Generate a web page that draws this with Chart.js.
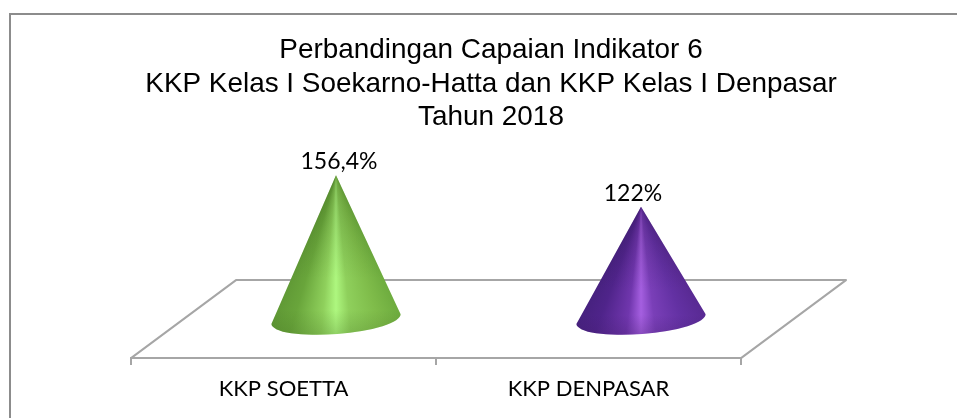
<!DOCTYPE html>
<html><head><meta charset="utf-8">
<style>html,body{margin:0;padding:0;background:#fff}#w{width:957px;height:418px;position:relative}</style>
<script src="https://cdn.jsdelivr.net/npm/chart.js@4"></script>
</head><body><div id="w"><canvas id="c" width="957" height="418"></canvas></div>
<script>
const categories = ["KKP SOETTA", "KKP DENPASAR"];
const values = [156.4, 122];
const valueLabels = ["156,4%", "122%"];
const titleLines = ["Perbandingan Capaian Indikator 6", "KKP Kelas I Soekarno-Hatta dan KKP Kelas I Denpasar", "Tahun 2018"];
const coneStops = [
  ["#6aa83c","#7fbc4a","#8fd05c","#aef77f","#8fd05c","#69a53b","#5c9433"],
  ["#56288f","#6331a3","#7a3fb8","#a55fe0","#7036ad","#4f248a","#43207a"]
];
const coneShade = ["rgba(62,105,30,", "rgba(60,25,100,"];
const labelNudge = [3, -8];
const depthX = 105, depthY = 78, axisMax = 243, coneR = 64.5, tilt = 5;
const GRID = "#a6a6a6";

const cones = {
  id: "cones",
  beforeDatasetsDraw(chart) {
    const {ctx, chartArea: a} = chart;
    ctx.save();
    ctx.strokeStyle = "#8c8c8c"; ctx.lineWidth = 2;
    ctx.strokeRect(10, 14, 1000, 1000);
    ctx.strokeStyle = GRID; ctx.lineWidth = 2; ctx.lineJoin = "round";
    ctx.beginPath();
    ctx.moveTo(a.left, a.bottom);
    ctx.lineTo(a.left + depthX, a.bottom - depthY);
    ctx.lineTo(a.right + depthX, a.bottom - depthY);
    ctx.lineTo(a.right, a.bottom);
    ctx.stroke();
    ctx.restore();
  },
  afterDatasetsDraw(chart) {
    const {ctx} = chart;
    const meta = chart.getDatasetMeta(0);
    const zero = chart.scales.y.getPixelForValue(0);
    meta.data.forEach((bar, i) => {
      const cx = bar.x + depthX / 2, baseY = zero - depthY / 2, topY = bar.y - depthY / 2;
      const half = Math.atan2(coneR, baseY - topY) * 1.12;
      const g = ctx.createConicGradient(Math.PI / 2 - half, cx, topY);
      const offs = [0, .2, .4, .5, .6, .8, 1];
      coneStops[i].forEach((s, k) => g.addColorStop(offs[k] * (2 * half) / (2 * Math.PI), s));
      g.addColorStop(2 * half / (2 * Math.PI) + .001, coneStops[i][6]);
      g.addColorStop(1, coneStops[i][0]);
      const ang = Math.atan2(-tilt * 2, coneR * 2);
      const path = new Path2D();
      path.moveTo(cx, topY);
      path.lineTo(cx + coneR, baseY - tilt);
      path.ellipse(cx, baseY, coneR + .3, 15, ang, 0, Math.PI);
      path.closePath();
      ctx.save();
      ctx.fillStyle = g;
      ctx.fill(path);
      const sh = ctx.createLinearGradient(0, topY, 0, baseY + 15);
      sh.addColorStop(0, coneShade[i] + ".35)");
      sh.addColorStop(.65, coneShade[i] + "0)");
      sh.addColorStop(.85, coneShade[i] + "0)");
      sh.addColorStop(1, coneShade[i] + ".25)");
      ctx.fillStyle = sh;
      ctx.fill(path);
      ctx.fillStyle = "#000";
      ctx.font = "23px Lato";
      ctx.textAlign = "center"; ctx.textBaseline = "alphabetic";
      ctx.fillText(valueLabels[i], cx + labelNudge[i], topY - 6);
      ctx.restore();
    });
  }
};

const hiddenAxis = (position, width) => ({
  position, min: 0, max: axisMax, afterFit(s) { s.width = width; },
  grid: { display: false }, border: { display: false }, ticks: { display: false }
});

new Chart(document.getElementById("c"), {
  type: "bar",
  data: { labels: categories, datasets: [{ data: values, backgroundColor: "transparent", borderWidth: 0, yAxisID: "y" }] },
  plugins: [cones],
  options: {
    responsive: false, animation: false,
    layout: { padding: { left: 25, right: 0, top: 0, bottom: 4.5 } },
    plugins: {
      legend: { display: false }, tooltip: { enabled: false },
      title: { display: true, text: titleLines, color: "#000",
        font: { family: "'Liberation Sans'", size: 27.9, weight: "normal", lineHeight: 1.2 },
        padding: { top: 34, bottom: 0 } }
    },
    scales: {
      x: { grid: { color: GRID, lineWidth: 2, drawOnChartArea: false, tickLength: 7, offset: true },
           border: { color: GRID, width: 2 },
           ticks: { color: "#000", font: { family: "Lato", size: 22 }, padding: 11, maxRotation: 0 } },
      y: hiddenAxis("left", 106),
      yRight: hiddenAxis("right", 216)
    }
  }
});
</script></body></html>
